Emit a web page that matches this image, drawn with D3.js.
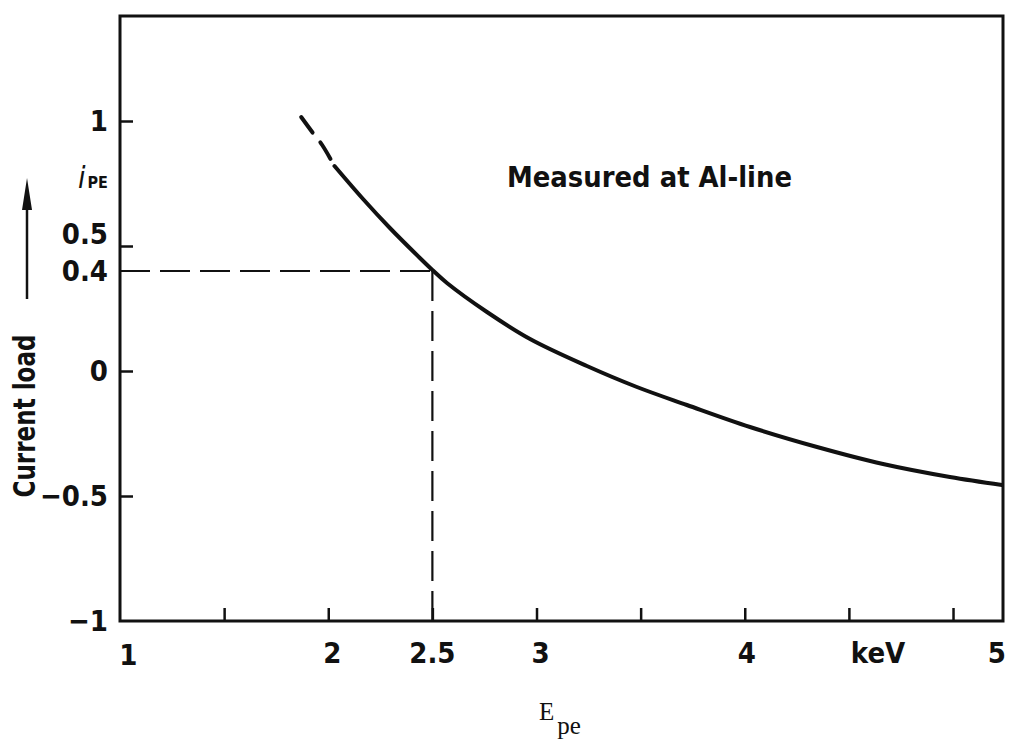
<!DOCTYPE html>
<html>
<head>
<meta charset="utf-8">
<script src="https://cdn.jsdelivr.net/npm/d3@7/dist/d3.min.js"></script>
<style>
  html, body { margin: 0; padding: 0; background: #fff; }
  svg { display: block; }
  .lbl { font-family: 'DejaVu Sans Condensed', 'DejaVu Sans', sans-serif; font-weight: bold; fill: #111; }
</style>
</head>
<body>
<svg id="chart" width="1015" height="744"></svg>
<script>
// ---- data ----
const curveDashedE = [1.87, 1.93, 1.97, 2.03];
const curveDashedI = [1.016, 0.948, 0.905, 0.82];
const curveE = [2.03, 2.167, 2.296, 2.44, 2.5, 2.57, 2.762, 2.969, 3.242, 3.482, 3.722, 4.025, 4.347, 4.664, 4.985, 5.235];
const curveI = [0.82, 0.688, 0.572, 0.452, 0.404, 0.352, 0.236, 0.128, 0.02, -0.064, -0.136, -0.224, -0.304, -0.372, -0.424, -0.456];
const markE = 2.5;
const markI = 0.4;
const xTickValues = [1.5, 2, 2.5, 3, 3.5, 4, 4.5, 5];
const xTickLabels = ["1", "2", "2.5", "3", "4", "keV", "5"];
const xTickLabelAt = [1.04, 2.02, 2.5, 3.02, 4.01, 4.64, 5.21];
const yTickValues = [1, 0.5, 0, -0.5];
const yTickLabels = ["1", "0.5", "0.4", "0", "-0.5", "-1"];
const yTickLabelAt = [1, 0.5, 0.4, 0, -0.5, -1];
const xDomain = [1, 5.24];
const yDomain = [-1, 1.42];

// ---- layout ----
const svg = d3.select("#chart");
const L = 120, R = 1003, T = 16, B = 621;
const x = d3.scaleLinear().domain(xDomain).range([L, R]);
const y = d3.scaleLinear().domain(yDomain).range([B, T]);

// ticks (inward)
const gx = svg.append("g").attr("transform", `translate(0,${B})`)
  .call(d3.axisBottom(x).tickValues(xTickValues).tickSize(-13).tickFormat(""));
gx.select(".domain").remove();
gx.selectAll("line").attr("stroke", "#111").attr("stroke-width", 2.5);

const gy = svg.append("g").attr("transform", `translate(${L},0)`)
  .call(d3.axisLeft(y).tickValues(yTickValues).tickSize(-13).tickFormat(""));
gy.select(".domain").remove();
gy.selectAll("line").attr("stroke", "#111").attr("stroke-width", 2.5);

// frame
svg.append("rect").attr("x", L).attr("y", T).attr("width", R - L).attr("height", B - T)
  .attr("fill", "none").attr("stroke", "#111").attr("stroke-width", 3);

// dashed guide lines
svg.append("line").attr("x1", x(xDomain[0])).attr("x2", x(markE))
  .attr("y1", y(markI)).attr("y2", y(markI))
  .attr("stroke", "#111").attr("stroke-width", 2.2).attr("stroke-dasharray", "30,10");
svg.append("line").attr("x1", x(markE)).attr("x2", x(markE))
  .attr("y1", y(markI)).attr("y2", y(yDomain[0]))
  .attr("stroke", "#111").attr("stroke-width", 2.2).attr("stroke-dasharray", "30,10");

// curve
const line = d3.line().x(d => x(d[0])).y(d => y(d[1])).curve(d3.curveCatmullRom.alpha(0.5));
svg.append("path").datum(curveDashedE.map((e, i) => [e, curveDashedI[i]]))
  .attr("d", line)
  .attr("fill", "none").attr("stroke", "#111").attr("stroke-width", 4)
  .attr("stroke-linecap", "round").attr("stroke-dasharray", "19,13");
svg.append("path").datum(curveE.map((e, i) => [e, curveI[i]]))
  .attr("d", line)
  .attr("fill", "none").attr("stroke", "#111").attr("stroke-width", 4)
  .attr("stroke-linecap", "round");

// x tick labels
svg.selectAll(".xl").data(xTickLabels).enter().append("text")
  .attr("class", "lbl").attr("font-size", 29).attr("text-anchor", "middle")
  .attr("x", (d, i) => x(xTickLabelAt[i]))
  .attr("y", (d, i) => i === 0 ? 665 : 663)
  .text(d => d);

// y tick labels
svg.selectAll(".yl").data(yTickLabels).enter().append("text")
  .attr("class", "lbl").attr("font-size", 29).attr("text-anchor", "end")
  .attr("x", 108)
  .attr("y", (d, i) => y(yTickLabelAt[i]) + (d === "0.5" ? -12 : 0) + 2)
  .attr("dominant-baseline", "middle")
  .text(d => d.replace("-", "\u2212"));

// i_PE
const ip = svg.append("text").attr("class", "lbl").attr("x", 78).attr("y", 188);
ip.append("tspan").attr("font-size", 30).attr("font-style", "italic").attr("font-weight", "normal").text("i");
ip.append("tspan").attr("font-size", 16).attr("dx", 2).text("PE");

// arrow
svg.append("line").attr("x1", 27).attr("x2", 27).attr("y1", 299).attr("y2", 205)
  .attr("stroke", "#111").attr("stroke-width", 2.5);
svg.append("path").attr("d", "M27,178 L22,210 L32,210 Z").attr("fill", "#111");

// y axis title
svg.append("text").attr("class", "lbl").attr("font-size", 30)
  .attr("text-anchor", "middle")
  .attr("textLength", 163).attr("lengthAdjust", "spacingAndGlyphs")
  .attr("transform", "translate(35,416) rotate(-90)")
  .text("Current load");

// annotation
svg.append("text").attr("class", "lbl").attr("font-size", 28)
  .attr("textLength", 285).attr("lengthAdjust", "spacingAndGlyphs")
  .attr("x", 507).attr("y", 187).text("Measured at Al-line");

// x axis title
const ex = svg.append("text").attr("x", 539).attr("y", 720)
  .attr("font-family", "'Liberation Serif', 'DejaVu Serif', serif").attr("fill", "#111");
ex.append("tspan").attr("font-size", 25).text("E");
ex.append("tspan").attr("font-size", 25).attr("dx", 3).attr("dy", 14).text("pe");
</script>
</body>
</html>
